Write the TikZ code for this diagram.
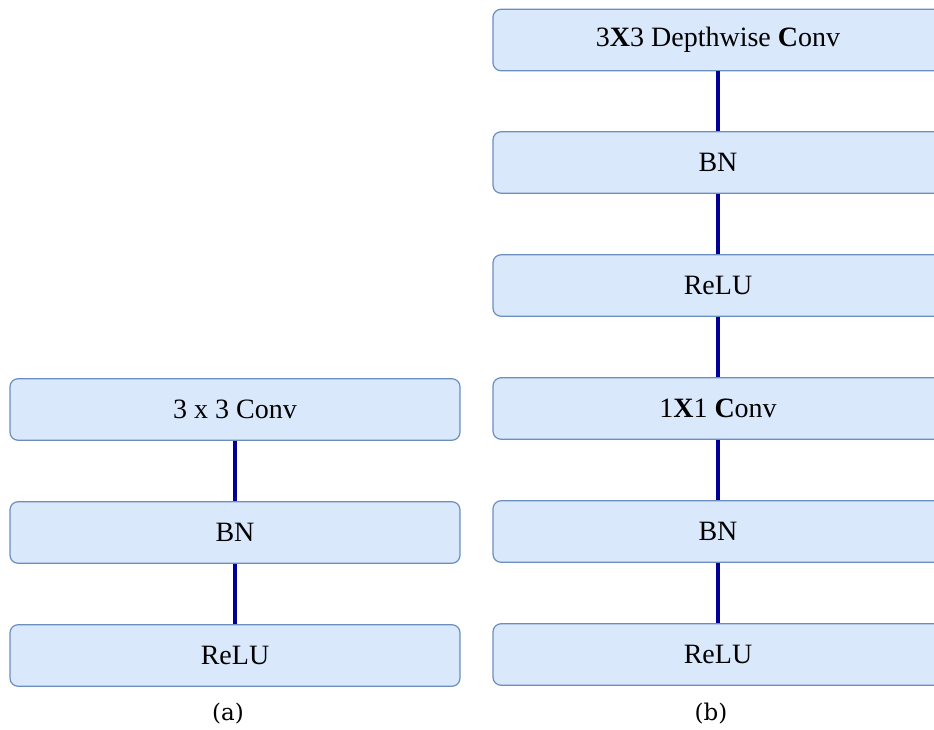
\documentclass[tikz,border=0pt]{standalone}
\usepackage{fontspec}
\setmainfont{Liberation Serif}
\newfontfamily\labelfont{DejaVu Serif}
\definecolor{boxfill}{HTML}{DAE8FC}
\definecolor{boxline}{HTML}{6C8EBF}
\definecolor{linkblue}{RGB}{0,0,153}
\begin{document}
\begin{tikzpicture}[x=1pt,y=-1pt,
  blk/.style={draw=boxline, fill=boxfill, line width=1.2pt, rounded corners=8pt,
    minimum width=450pt, minimum height=61.5pt, inner sep=0pt,
    font=\fontsize{28}{30}\selectfont},
  link/.style={draw=linkblue, line width=4pt},
  subcap/.style={font=\labelfont\fontsize{23}{25}\selectfont, inner sep=0pt}]
\useasboundingbox (0,0) rectangle (934,730);
\clip (0,0) rectangle (934,730);
% (a)
\node[blk] (a1) at (235,409.5) {3 x 3 Conv};
\node[blk] (a2) at (235,532.5) {BN};
\node[blk] (a3) at (235,655.5) {ReLU};
\draw[link] (a1.south) -- (a2.north);
\draw[link] (a2.south) -- (a3.north);
% (b)
\node[blk] (b1) at (718,40) {3{\bfseries X}3 Depthwise {\bfseries C}onv};
\node[blk] (b2) at (718,162.5) {BN};
\node[blk] (b3) at (718,285.5) {ReLU};
\node[blk] (b4) at (718,408.5) {1{\bfseries X}1 {\bfseries C}onv};
\node[blk] (b5) at (718,531.5) {BN};
\node[blk] (b6) at (718,654.5) {ReLU};
\draw[link] (b1.south) -- (b2.north);
\draw[link] (b2.south) -- (b3.north);
\draw[link] (b3.south) -- (b4.north);
\draw[link] (b4.south) -- (b5.north);
\draw[link] (b5.south) -- (b6.north);
% captions
\node[subcap] (la) at (228,714) {(a)};
\node[subcap] (lb) at (711,714) {(b)};
\end{tikzpicture}
\end{document}
